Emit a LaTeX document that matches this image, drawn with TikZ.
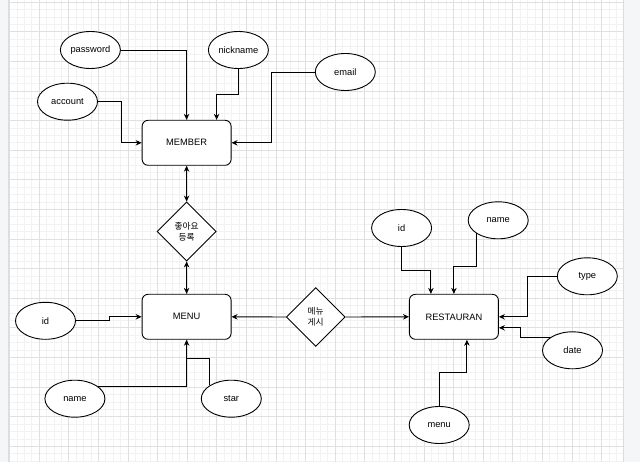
\documentclass[tikz,border=0pt]{standalone}
\usepackage{fontspec}
\setmainfont{Liberation Sans}
\newfontfamily\krfont{Noto Sans CJK KR}
\usetikzlibrary{shapes.geometric,arrows.meta}
\definecolor{gmajor}{HTML}{E0E0E0}
\definecolor{gminor}{HTML}{F2F2F2}
\definecolor{side}{HTML}{F5F6F8}
\definecolor{sideline}{HTML}{DADCE0}
\begin{document}
\begin{tikzpicture}[x=1pt,y=-1pt,
  ent/.style={draw=black,fill=white,rounded corners=6pt,minimum width=89pt,minimum height=45pt,line width=0.9pt,inner sep=0pt,font=\fontsize{9.3}{11}\selectfont},
  attr/.style={draw=black,fill=white,ellipse,minimum width=60pt,minimum height=37pt,line width=0.9pt,inner sep=0pt,font=\fontsize{9.3}{11}\selectfont},
  rel/.style={draw=black,fill=white,diamond,minimum width=59pt,minimum height=59pt,line width=0.9pt,inner sep=0pt,align=center,font=\krfont\fontsize{8.7}{10.7}\selectfont},
  conn/.style={draw=black,line width=0.9pt,-{Stealth[length=6pt,width=5.5pt]}},
  conn2/.style={draw=black,line width=0.9pt,{Stealth[length=6pt,width=5.5pt]}-{Stealth[length=6pt,width=5.5pt]}}]
\useasboundingbox (0,0) rectangle (640,462);
\fill[side] (0,0) rectangle (640,462);
\fill[white] (8,0) rectangle (623,462);
% minor grid
\foreach \i in {0,...,82} {\draw[gminor,line width=0.8pt] ({9.5+7.4*\i},0) -- ({9.5+7.4*\i},462);}
\foreach \j in {0,...,62} {\draw[gminor,line width=0.8pt] (8,{2.3+7.4*\j}) -- (623,{2.3+7.4*\j});}
% major grid
\foreach \i in {0,...,20} {\draw[gmajor,line width=0.8pt] ({9.5+29.6*\i},0) -- ({9.5+29.6*\i},462);}
\foreach \j in {0,...,15} {\draw[gmajor,line width=0.8pt] (8,{2.3+29.6*\j}) -- (623,{2.3+29.6*\j});}
\draw[sideline,line width=0.8pt] (8,0) -- (8,462);
\draw[sideline,line width=0.8pt] (623,0) -- (623,462);

% entities
\node[ent] (member) at (186.6,142.8) {MEMBER};
\node[ent] (menu) at (186.6,316.8) {MENU};
\node[ent] (rest) at (453.9,316.8) {RESTAURAN};
% relations
\node[rel] (like) at (186.6,231.5) {좋아요\\등록};
\node[rel] (post) at (315.7,317) {메뉴\\게시};
% attributes
\node[attr] (pw) at (90.4,50) {password};
\node[attr] (nick) at (238.4,50) {nickname};
\node[attr] (email) at (345.3,72) {email};
\node[attr] (acc) at (67.5,101.7) {account};
\node[attr] (idr) at (401.6,228) {id};
\node[attr] (nmr) at (498.2,220.3) {name};
\node[attr] (type) at (587.3,276.3) {type};
\node[attr] (date) at (572.5,350.3) {date};
\node[attr] (mnu) at (439.2,425) {menu};
\node[attr] (idl) at (45.5,320.8) {id};
\node[attr] (nml) at (74.9,398.7) {name};
\node[attr] (star) at (231.3,398.7) {star};

% connectors to MEMBER
\draw[conn] (pw.east) -| (member.north);
\draw[conn] (nick.south) -- ++(0,26) -| ([xshift=30pt]member.north);
\draw[conn] (email.west) -- ++(-43,0) |- (member.east);
\draw[conn] (acc.east) -- ++(23,0) |- (member.west);
% relations
\draw[conn2] (member.south) -- (like.north);
\draw[conn2] (like.south) -- (menu.north);
\draw[conn] (post.west) -- (menu.east);
\draw[conn] (post.east) -- (rest.west);
% connectors to MENU
\draw[conn] (idl.east) -- ++(33,0) |- (menu.west);
\draw[conn] (nml.29) -| (menu.south);
\draw[line width=0.9pt] (star.148) |- ([yshift=-19pt]menu.south);
% connectors to RESTAURAN
\draw[conn] (idr.south) -- ++(0,24) -| ([xshift=-23pt]rest.north);
\draw[conn] (nmr.211) |- ([yshift=27.5pt]rest.north) -- (rest.north);
\draw[conn] (type.west) -- ++(-29,0) |- (rest.east);
\draw[conn] (date.149) -- ++(-30,0) |- ([yshift=-11pt]rest.east);
\draw[conn] (mnu.north) -- ++(0,-34) -| ([xshift=13pt]rest.south);
\end{tikzpicture}
\end{document}
